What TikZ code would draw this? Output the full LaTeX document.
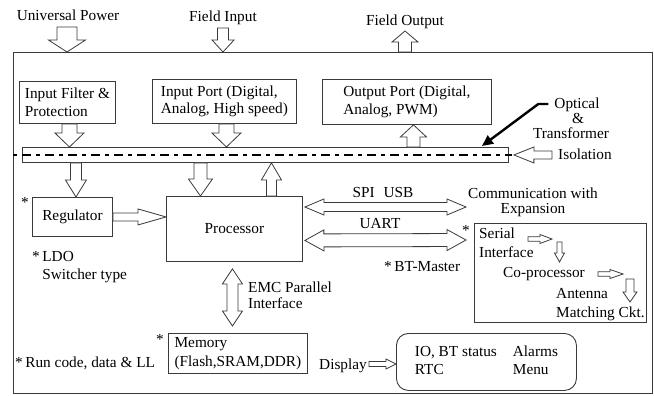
\documentclass[tikz,border=0pt]{standalone}
\usepackage{fontspec}
\setmainfont{Liberation Serif}
\usetikzlibrary{calc,arrows.meta}
\definecolor{linec}{HTML}{3A3A3A}
\tikzset{
  every node/.style={font=\fontsize{15.3pt}{17.5pt}\selectfont, inner sep=0pt},
  box/.style={draw=linec, line width=0.9pt, align=left},
  lbl/.style={text height=11.5pt, text depth=1.5pt},
  arrowbody/.style={draw=linec, fill=white, line width=0.8pt, line join=miter},
  % hollow block arrow: stem half width, head half width, head length
  single block/.style n args={3}{arrowbody, to path={
    ($(\tikztotarget)!#3!(\tikztostart)$) coordinate (bhA)
    ($(\tikztostart)!#1!90:(\tikztotarget)$)
    -- ($(bhA)!#1!-90:(\tikztostart)$)
    -- ($(bhA)!#2!-90:(\tikztostart)$)
    -- (\tikztotarget)
    -- ($(bhA)!#2!90:(\tikztostart)$)
    -- ($(bhA)!#1!90:(\tikztostart)$)
    -- ($(\tikztostart)!#1!-90:(\tikztotarget)$)
    -- cycle}},
  % hollow block arrow with a head at both ends
  double block/.style n args={3}{arrowbody, to path={
    ($(\tikztostart)!#3!(\tikztotarget)$) coordinate (bhA)
    ($(\tikztotarget)!#3!(\tikztostart)$) coordinate (bhB)
    (\tikztostart)
    -- ($(bhA)!#2!90:(\tikztotarget)$)
    -- ($(bhA)!#1!90:(\tikztotarget)$)
    -- ($(bhB)!#1!-90:(\tikztostart)$)
    -- ($(bhB)!#2!-90:(\tikztostart)$)
    -- (\tikztotarget)
    -- ($(bhB)!#2!90:(\tikztostart)$)
    -- ($(bhB)!#1!90:(\tikztostart)$)
    -- ($(bhA)!#1!-90:(\tikztotarget)$)
    -- ($(bhA)!#2!-90:(\tikztotarget)$)
    -- cycle}},
  isoline/.style={line width=2.2pt, dash pattern=on 4pt off 5pt on 9pt off 5pt},
  pointer/.style={line width=2.4pt, line join=miter, -{Triangle[length=11pt,width=10pt]}},
}
\begin{document}
\begin{tikzpicture}[x=1pt, y=-1pt]
\useasboundingbox (0,0) rectangle (654,396);

% enclosure
\node[box, anchor=north west, minimum width=639pt, minimum height=341pt] (outer) at (13,52) {};

% external signals
\node[lbl] (power) at (68,16) {Universal Power};
\node[lbl] (fieldin) at (223,17) {Field Input};
\node[lbl] (fieldout) at (405,21) {Field Output};

% field side blocks
\node[box, anchor=north west, minimum width=96pt, minimum height=42pt] (filter) at (19,81) {Input Filter \&\\Protection};
\node[box, anchor=north west, minimum width=144pt, minimum height=44pt] (inport) at (152,79) {Input Port (Digital,\\Analog, High speed)};
\node[box, anchor=north west, minimum width=169pt, minimum height=45pt] (outport) at (322,79) {Output Port (Digital,\\Analog, PWM)};

% isolation barrier
\node[box, fill=white, anchor=north west, minimum width=486pt, minimum height=15pt] (bar) at (22,147) {};
\draw[isoline] (outer.west |- bar.center) -- ($(bar.east)+(3,0)$);

\node[lbl] (optical) at (577,104) {Optical};
\node[lbl] (amp) at (578,119) {\&};
\node[lbl] (transformer) at (571,134) {Transformer};
\node[lbl, anchor=west] (isolation) at (558,155) {Isolation};

% logic side blocks
\node[box, anchor=north west, minimum width=80pt, minimum height=39pt] (reg) at (32,197) {Regulator};
\node[box, anchor=north west, minimum width=136pt, minimum height=65pt] (proc) at (166,196) {Processor};
\node[box, anchor=north west, minimum width=139pt, minimum height=40pt, font=\fontsize{15.3pt}{19pt}\selectfont] (mem) at (168,333) {Memory\\(Flash,SRAM,DDR)};
\node[box, anchor=north west, minimum width=172pt, minimum height=99pt] (serialbox) at (474,223) {};
\node[box, rounded corners=12pt, anchor=north west, minimum width=180pt, minimum height=57pt, font=\fontsize{15.3pt}{18pt}\selectfont] (disp) at (396,333)
  {\begin{tabular}{@{}l@{\hspace{16pt}}l@{}}IO, BT status & Alarms\\RTC & Menu\end{tabular}};

% notes
\node[lbl] (starreg) at (25,202) {*};
\node[lbl] (starmem) at (160,339) {*};
\node[lbl] (starser) at (466,230) {*};
\node[anchor=west, align=left, font=\fontsize{15.3pt}{18pt}\selectfont] (ldo) at (32,267.4) {*\,LDO\\\hphantom{*\,}Switcher type};
\node[lbl, anchor=west] (btmaster) at (384,266) {*\,BT-Master};
\node[lbl, anchor=west] (runcode) at (15,362) {*\,Run code, data \& LL};
\node[anchor=west, align=left, font=\fontsize{15.3pt}{16pt}\selectfont] (emc) at (248,295) {EMC Parallel\\Interface};
\node[lbl] (spiusb) at (383,192) {SPI\hspace{9pt}USB};
\node[lbl] (uart) at (380,223) {UART};
\node[align=center, font=\fontsize{15.3pt}{15pt}\selectfont] (comm) at (533,202) {Communication with\\Expansion};
\node[lbl, anchor=east] (displabel) at (367,364) {Display};

% serial expansion chain
\node[lbl, anchor=west] (serial) at (479,233) {Serial};
\node[lbl, anchor=west] (siface) at (479,252) {Interface};
\node[lbl, anchor=west] (coproc) at (503,272) {Co-processor};
\node[lbl, anchor=west] (antenna) at (556,293) {Antenna};
\node[lbl, anchor=west] (matching) at (556,312) {Matching Ckt.};

% arrow end points
\coordinate (pwrtop) at (67,27);
\coordinate (fitop) at (223,28);
\coordinate (fotip) at (405,31);
\coordinate (fbx) at ($(filter.south)+(2,0)$);
\coordinate (ibx) at ($(inport.south)+(2,0)$);
\coordinate (obx) at ($(outport.south)+(6.5,0)$);
\coordinate (rgx) at ($(reg.north)+(3.5,0)$);
\coordinate (pdx) at ($(proc.north)+(-34,0)$);
\coordinate (pux) at ($(proc.north)+(37,0)$);
\coordinate (spiL) at ($(proc.north east)+(2,11)$);
\coordinate (spiR) at (466,207);
\coordinate (uartL) at ($(proc.east)+(2,11.5)$);
\coordinate (uartR) at (466,240);
\coordinate (emcT) at ($(proc.south)+(-2,7)$);
\coordinate (emcB) at ($(emcT |- mem.north)+(0,-7)$);
\coordinate (opttip) at (482,146);
\coordinate (s1a) at (528,239);
\coordinate (s1b) at (552,239);
\coordinate (s2a) at (559.5,242);
\coordinate (s2b) at (559.5,262);
\coordinate (s3a) at (598,274);
\coordinate (s3b) at (623,274);
\coordinate (s4a) at (630,279);
\coordinate (s4b) at (630,302);

% signal flow
\draw[single block={10pt}{18.5pt}{12pt}] (pwrtop) to (pwrtop |- outer.north);
\draw[single block={5.5pt}{11pt}{12pt}] (fitop) to (fitop |- outer.north);
\draw[single block={6.5pt}{13pt}{11pt}] (fotip |- outer.north) to (fotip);
\draw[single block={7.5pt}{14.5pt}{14pt}] (fbx) to (fbx |- bar.north);
\draw[single block={7.5pt}{14.5pt}{14pt}] (ibx) to (ibx |- bar.north);
\draw[single block={6.5pt}{13pt}{12pt}] (obx |- bar.north) to (obx);
\draw[single block={5.5pt}{10.5pt}{17pt}] (rgx |- bar.south) to (rgx);
\draw[single block={6.5pt}{12pt}{17pt}] (pdx |- bar.south) to (pdx);
\draw[single block={5pt}{10pt}{17pt}] (pux) to (pux |- bar.south);
\draw[single block={4pt}{8pt}{28pt}] (reg.east) to (reg.east -| proc.west);
\draw[double block={4.5pt}{8pt}{19pt}] (spiL) to (spiR);
\draw[double block={6.5pt}{10.5pt}{19pt}] (uartL) to (uartR);
\draw[double block={5.5pt}{10pt}{15pt}] (emcT) to (emcB);
\draw[single block={4pt}{8pt}{20pt}] ($(isolation.west)+(-6,0)$) to ($(bar.east)+(5,0)$);
\draw[single block={2.5pt}{5pt}{10pt}] ($(displabel.east)+(2,0)$) to (displabel.east -| disp.west);
\draw[single block={2.2pt}{4.5pt}{12pt}] (s1a) to (s1b);
\draw[single block={2.5pt}{5pt}{9pt}] (s2a) to (s2b);
\draw[single block={2.2pt}{4.5pt}{13pt}] (s3a) to (s3b);
\draw[single block={4pt}{7pt}{10pt}] (s4a) to (s4b);

% pointer to the barrier
\draw[pointer] (optical.west) ++(-6pt,0pt) -- ++(-10pt,0pt) -- (opttip);
\end{tikzpicture}
\end{document}
